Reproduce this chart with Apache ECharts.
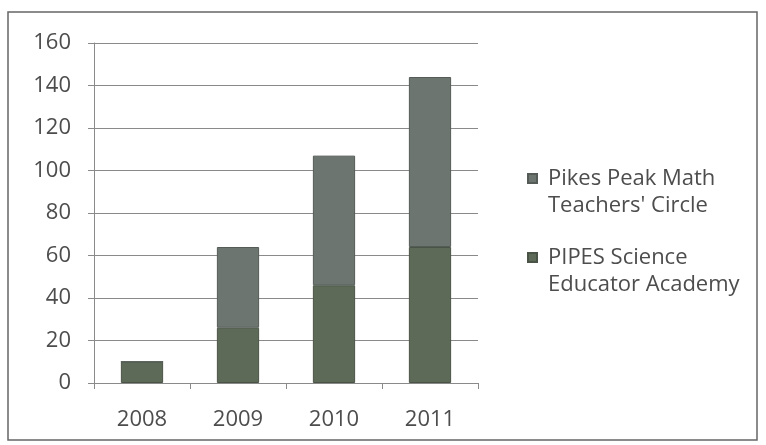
<!DOCTYPE html>
<html><head><meta charset="utf-8">
<script src="https://cdn.jsdelivr.net/npm/echarts@6/dist/echarts.min.js"></script>
<style>html,body{margin:0;padding:0;background:#fff}#c{width:766px;height:445px}</style>
</head><body><div id="c"></div>
<script>
var categories = ['2008', '2009', '2010', '2011'];
var pipesValues = [10, 26, 46, 64];
var pikesValues = [0, 38, 61, 80];
var seriesNames = ["Pikes Peak Math\nTeachers' Circle", "PIPES Science\nEducator Academy"];
var yTicks = [0, 20, 40, 60, 80, 100, 120, 140, 160];

var chart = echarts.init(document.getElementById('c'));
var font = "'Open Sans', 'DejaVu Sans', sans-serif";
var legendIcon = 'path://M0,0H10V10H0ZM0,40L0.001,40Z';
chart.setOption({
  animation: false,
  backgroundColor: '#fff',
  graphic: [{
    type: 'rect', shape: {x: 8, y: 12, width: 749, height: 428},
    style: {fill: 'none', stroke: '#666', lineWidth: 1.5}, silent: true
  }],
  grid: {left: 94, right: 288, top: 43, bottom: 62},
  legend: {
    orient: 'vertical', left: 522, top: 160,
    itemWidth: 9, itemHeight: 36, itemGap: 25,
    icon: legendIcon,
    data: [seriesNames[0], seriesNames[1]],
    textStyle: {fontFamily: font, fontSize: 22, color: '#4d4d4d', lineHeight: 27, padding: [0, 0, 0, 6]}
  },
  xAxis: {
    type: 'category', data: categories,
    axisLine: {lineStyle: {color: '#8a8a8a', width: 1}},
    axisTick: {show: true, alignWithLabel: false, length: 6, lineStyle: {color: '#8a8a8a'}},
    axisLabel: {fontFamily: font, fontSize: 22, color: '#4d4d4d', margin: 26}
  },
  yAxis: {
    type: 'value', min: 0, max: 160, interval: 20,
    axisLine: {show: true, lineStyle: {color: '#8a8a8a', width: 1}},
    axisTick: {show: true, length: 6, lineStyle: {color: '#8a8a8a'}},
    axisLabel: {fontFamily: font, fontSize: 22, color: '#4d4d4d', margin: 23},
    splitLine: {lineStyle: {color: '#8a8a8a', width: 1}}
  },
  series: [
    {
      name: seriesNames[1], type: 'bar', stack: 'a', data: pipesValues,
      barWidth: '44%',
      itemStyle: {color: '#5e6a58', borderColor: '#4a5446', borderWidth: 1}
    },
    {
      name: seriesNames[0], type: 'bar', stack: 'a', data: pikesValues,
      barWidth: '44%',
      itemStyle: {color: '#6c7570', borderColor: '#555c57', borderWidth: 1}
    }
  ]
});
</script></body></html>
